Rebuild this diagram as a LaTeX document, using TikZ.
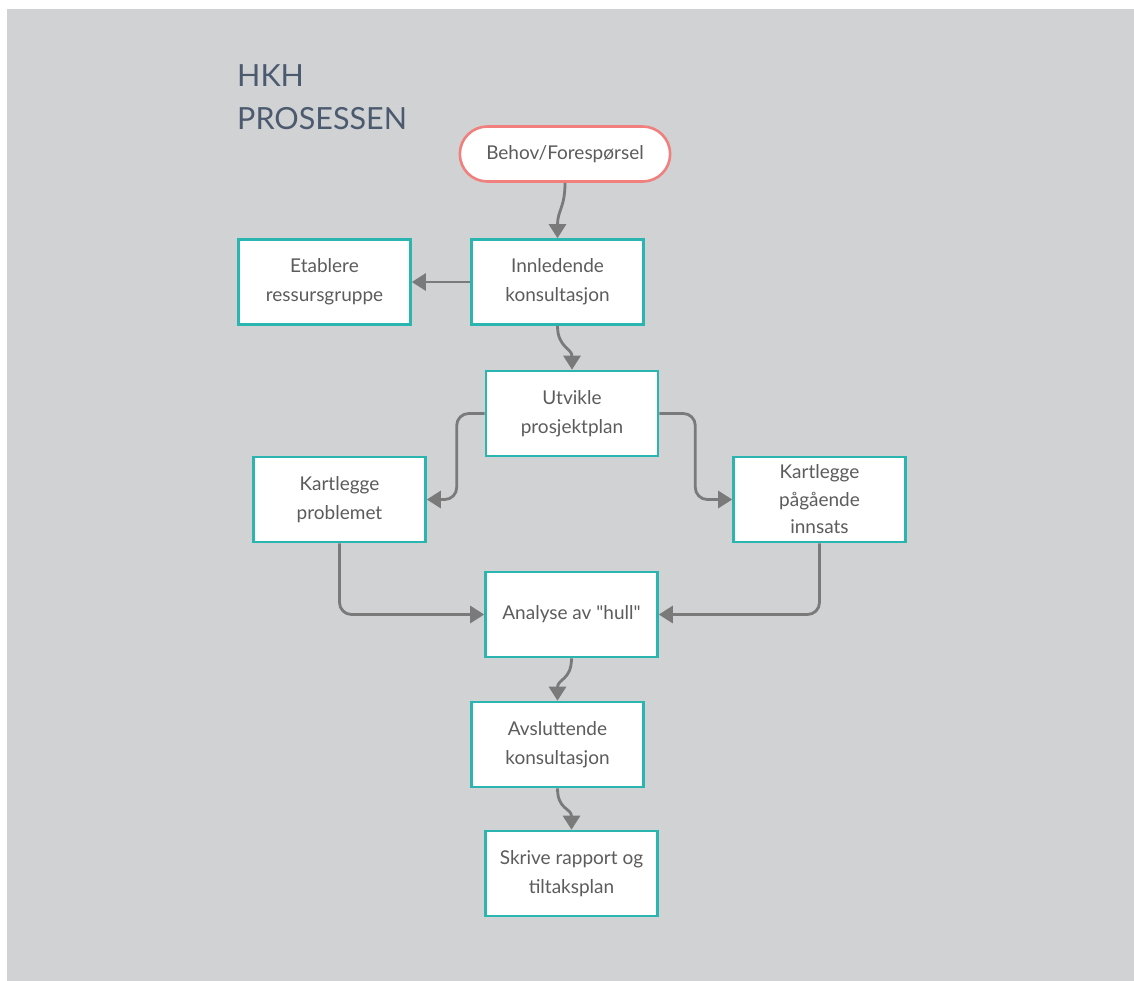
\documentclass[tikz,border=0pt]{standalone}
\usepackage{fontspec}
\setmainfont{Lato}[Ligatures=TeXOff]
\usetikzlibrary{arrows.meta,shapes.misc}
\definecolor{bg}{HTML}{D1D2D4}
\definecolor{teal}{HTML}{2AB5B0}
\definecolor{salmon}{HTML}{F07F7D}
\definecolor{conn}{HTML}{7A7A7A}
\definecolor{txt}{HTML}{5C5C5C}
\definecolor{ttl}{HTML}{4B5A6E}
\tikzset{
  box/.style={draw=teal, line width=2.6pt, fill=white, minimum width=172pt, minimum height=85pt,
    align=center, text=txt, font=\fontsize{19}{29}\selectfont, inner sep=2pt},
  pill/.style={draw=salmon, line width=2.6pt, fill=white, rounded rectangle, minimum width=217pt,
    minimum height=55pt, text=txt, font=\fontsize{19}{29}\selectfont},
  conn/.style={draw=conn, line width=2.8pt, -{Triangle[length=14pt,width=17pt]}},
  orth/.style={conn, rounded corners=12pt}
}
\begin{document}
\begin{tikzpicture}[x=1pt,y=-1pt]
\useasboundingbox (0,0) rectangle (1134,980);
\fill[white] (-5,-5) rectangle (1140,990);
\fill[bg] (7,9) rectangle (1140,990);
\node[anchor=north west, text=ttl, font=\fontsize{30.5}{43}\selectfont, align=left, inner sep=0pt] (title) at (237,64) {HKH\\PROSESSEN};
\node[pill] (behov) at (565,154) {Behov/Forespørsel};
\node[box] (inn) at (557.5,282) {Innledende\\konsultasjon};
\node[box] (etab) at (324.5,282) {Etablere\\ressursgruppe};
\node[box] (utv) at (572,413.5) {Utvikle\\prosjektplan};
\node[box] (kprob) at (339.5,499.5) {Kartlegge\\problemet};
\node[box, font=\fontsize{19}{27.5}\selectfont] (kpag) at (819.5,499.5) {Kartlegge\\pågående\\innsats};
\node[box] (anal) at (571.5,614.5) {Analyse av "hull"};
\node[box] (avsl) at (557.5,744.5) {Avsluttende\\konsultasjon};
\node[box] (skriv) at (571.5,873.5) {Skrive rapport og\\tiltaksplan};
\draw[conn] (behov.south) .. controls +(0,25) and +(0,-28) .. (inn.north);
\draw[conn] (inn.west) -- (etab.east);
\draw[conn] (inn.south) .. controls +(0,22) and +(0,-22) .. (utv.north);
\draw[orth] (utv.west) -| ([xshift=-28pt]utv.west |- kprob.east) -- (kprob.east);
\draw[orth] (utv.east) -- ++(36,0) |- (kpag.west);
\draw[orth] (kprob.south) |- (anal.west);
\draw[orth] (kpag.south) |- (anal.east);
\draw[conn] (anal.south) .. controls +(0,22) and +(0,-22) .. (avsl.north);
\draw[conn] (avsl.south) .. controls +(0,22) and +(0,-22) .. (skriv.north);
\end{tikzpicture}
\end{document}
